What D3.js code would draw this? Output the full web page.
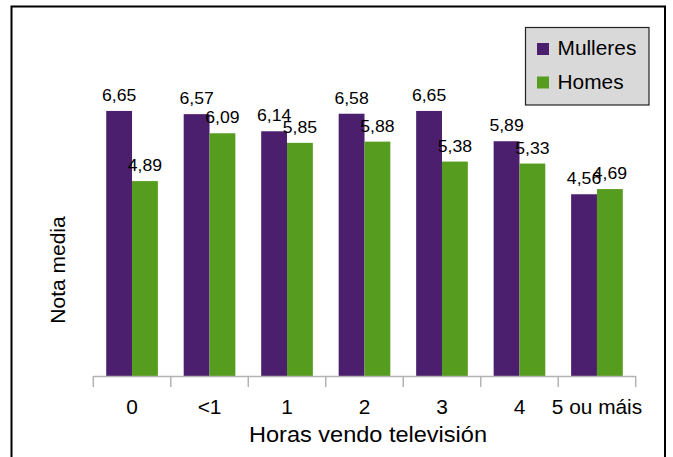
<!DOCTYPE html>
<html>
<head>
<meta charset="utf-8">
<script src="https://cdn.jsdelivr.net/npm/d3@7"></script>
<style>
  html, body { margin: 0; padding: 0; background: #fff; }
  svg { display: block; font-family: "Liberation Sans", Arial, sans-serif; }
</style>
</head>
<body>
<svg id="chart" width="673" height="457"></svg>
<script>
const categories = ["0", "<1", "1", "2", "3", "4", "5 ou máis"];
const series = ["Mulleres", "Homes"];
const mulleres = [6.65, 6.57, 6.14, 6.58, 6.65, 5.89, 4.56];
const homes = [4.89, 6.09, 5.85, 5.88, 5.38, 5.33, 4.69];
const valueLabels = {
  Mulleres: ["6,65", "6,57", "6,14", "6,58", "6,65", "5,89", "4,56"],
  Homes: ["4,89", "6,09", "5,85", "5,88", "5,38", "5,33", "4,69"]
};
const colors = ["#4b1f6d", "#569c1e"];
const xTitle = "Horas vendo televisión";
const yTitle = "Nota media";

const svg = d3.select("#chart");
const SX = 1.07;

svg.append("rect").attr("x", 11.5).attr("y", 6.5).attr("width", 653.5).attr("height", 460)
  .attr("fill", "#fff").attr("stroke", "#000").attr("stroke-width", 2);

const x0 = d3.scaleBand().domain(categories).range([93.3, 635.7]).paddingInner(0).paddingOuter(0);
const x1 = d3.scaleBand().domain(series).range([0, x0.bandwidth()]).paddingInner(0).paddingOuter(0.5);
const y = d3.scaleLinear().domain([0, 7]).range([376, 97]);
const color = d3.scaleOrdinal().domain(series).range(colors);

const data = categories.map((c, i) => ({ cat: c, vals: [
  { s: "Mulleres", v: mulleres[i], label: valueLabels.Mulleres[i] },
  { s: "Homes", v: homes[i], label: valueLabels.Homes[i] }
]}));

const groups = svg.append("g").selectAll("g").data(data).join("g")
  .attr("transform", d => `translate(${x0(d.cat)},0)`);

groups.selectAll("rect").data(d => d.vals).join("rect")
  .attr("x", d => x1(d.s)).attr("y", d => y(d.v))
  .attr("width", x1.bandwidth()).attr("height", d => y(0) - y(d.v))
  .attr("fill", d => color(d.s));

// axis line and ticks at band boundaries
const axisG = svg.append("g");
const r = x0.range();
axisG.append("line").attr("x1", r[0]).attr("x2", r[1]).attr("y1", y(0) + 0.5).attr("y2", y(0) + 0.5)
  .attr("stroke", "#b3b3b3").attr("stroke-width", 1.5);
const bounds = categories.map(c => x0(c)).concat([r[1]]);
axisG.selectAll("line.tick").data(bounds).join("line").attr("class", "tick")
  .attr("x1", d => d).attr("x2", d => d).attr("y1", y(0)).attr("y2", y(0) + 11)
  .attr("stroke", "#b3b3b3").attr("stroke-width", 1.5);

// value labels
groups.selectAll("text").data(d => d.vals).join("text")
  .attr("transform", d => `translate(${x1(d.s) + x1.bandwidth() / 2},${y(d.v) - 10}) scale(${SX},1)`)
  .attr("text-anchor", "middle").attr("font-size", 16.5).attr("fill", "#000")
  .text(d => d.label);

// category labels
svg.append("g").selectAll("text").data(categories).join("text")
  .attr("transform", d => `translate(${x0(d) + x0.bandwidth() / 2},414) scale(${SX},1)`)
  .attr("text-anchor", "middle").attr("font-size", 19.5).attr("fill", "#000")
  .text(d => d);

// axis titles
svg.append("text").attr("transform", `translate(368,442) scale(${SX},1)`)
  .attr("text-anchor", "middle").attr("font-size", 22).attr("fill", "#000").text(xTitle);
svg.append("text").attr("transform", `translate(65,270) rotate(-90)`)
  .attr("text-anchor", "middle").attr("font-size", 21).attr("fill", "#000").text(yTitle);

// legend
const lg = svg.append("g");
lg.append("rect").attr("x", 525.5).attr("y", 27.5).attr("width", 123.5).attr("height", 77.5)
  .attr("fill", "#d9d9d9").attr("stroke", "#222").attr("stroke-width", 1.2);
const items = lg.selectAll("g").data(series).join("g")
  .attr("transform", (d, i) => `translate(537,${43 + i * 33.5})`);
items.append("rect").attr("width", 12).attr("height", 12).attr("fill", d => color(d));
items.append("text").attr("transform", `translate(20.5,12.3) scale(${SX},1)`)
  .attr("font-size", 19.5).attr("fill", "#000").text(d => d);
</script>
</body>
</html>
